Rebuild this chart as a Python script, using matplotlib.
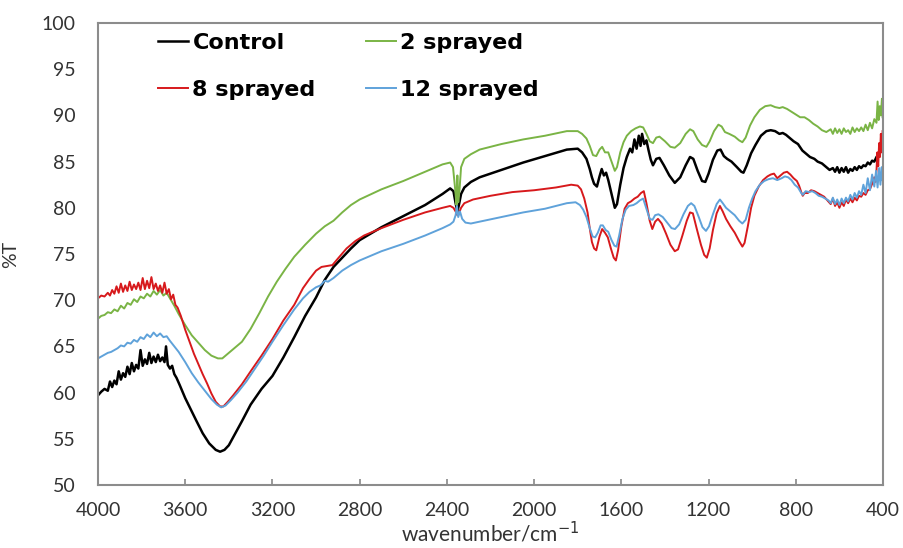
import matplotlib
matplotlib.use("Agg")
import matplotlib.pyplot as plt

# FTIR spectra: wavenumber (cm-1) and %T
CONTROL_WN = [4000, 3985, 3970, 3955, 3945, 3935, 3925, 3915, 3905, 3895, 3885, 3875, 3865, 3855, 3845, 3835,
              3825, 3815, 3805, 3795, 3785, 3775, 3765, 3755, 3745, 3735, 3725, 3715, 3705, 3695, 3688, 3680,
              3670, 3660, 3650, 3640, 3625, 3600, 3575, 3550, 3520, 3490, 3460, 3440, 3420, 3400, 3370, 3340,
              3300, 3250, 3200, 3150, 3100, 3050, 3000, 2960, 2920, 2880, 2840, 2800, 2700, 2600, 2500, 2420,
              2385, 2370, 2360, 2352, 2345, 2335, 2320, 2290, 2250, 2150, 2050, 1950, 1850, 1800, 1780, 1760,
              1745, 1735, 1725, 1712, 1700, 1690, 1680, 1670, 1660, 1645, 1630, 1620, 1605, 1590, 1575, 1560,
              1550, 1540, 1530, 1520, 1512, 1505, 1495, 1485, 1475, 1465, 1455, 1440, 1425, 1405, 1380, 1355,
              1330, 1305, 1285, 1270, 1250, 1230, 1215, 1200, 1180, 1160, 1145, 1130, 1115, 1095, 1070, 1050,
              1040, 1025, 1005, 985, 960, 935, 915, 895, 875, 860, 845, 830, 810, 790, 770, 750, 735, 715, 700,
              680, 660, 645, 630, 620, 610, 600, 590, 580, 570, 560, 550, 540, 530, 520, 510, 500, 490, 480,
              470, 460, 450, 440, 430, 420, 410, 402]
CONTROL_T = [59.7, 60.1, 60.4, 60.2, 61.2, 60.6, 61.3, 60.9, 62.3, 61.4, 62.1, 61.7, 62.8, 62.0, 63.2, 62.3,
             63.0, 62.6, 64.6, 62.9, 63.6, 63.1, 64.3, 63.2, 63.9, 63.3, 64.1, 63.4, 63.8, 63.3, 65.0, 63.0,
             62.6, 62.9, 62.0, 61.6, 60.8, 59.4, 58.2, 57.0, 55.6, 54.5, 53.8, 53.6, 53.8, 54.3, 55.6, 56.9,
             58.7, 60.4, 61.8, 63.8, 66.0, 68.3, 70.3, 72.2, 73.6, 74.6, 75.6, 76.5, 77.9, 79.1, 80.3, 81.5,
             82.1, 81.8, 80.5, 79.6, 80.3, 81.5, 82.2, 82.8, 83.3, 84.1, 84.9, 85.6, 86.3, 86.4, 86.0, 85.3,
             84.2, 83.3, 82.6, 82.3, 83.4, 84.2, 83.5, 83.8, 83.0, 81.5, 80.0, 80.4, 82.5, 84.3, 85.5, 86.4,
             86.0, 87.4, 86.4, 87.8, 86.7, 88.0, 86.9, 87.3, 86.2, 85.2, 84.6, 85.3, 85.4, 84.6, 83.5, 82.7,
             83.3, 84.6, 85.5, 85.3, 84.0, 82.9, 82.8, 83.7, 85.2, 86.2, 86.3, 85.6, 85.3, 85.0, 84.4, 83.9,
             83.8, 84.6, 85.9, 86.8, 87.8, 88.3, 88.4, 88.3, 88.0, 88.1, 87.9, 87.6, 87.2, 86.9, 86.2, 85.8,
             85.5, 85.3, 85.0, 84.8, 84.4, 84.1, 84.3, 83.9, 84.4, 83.8, 84.3, 83.9, 84.4, 83.8, 84.2, 84.0,
             84.4, 84.1, 84.5, 84.3, 84.6, 84.5, 84.9, 84.7, 85.1, 85.0, 85.5, 85.8, 86.6, 87.5]

SPRAY2_WN = [4000, 3985, 3970, 3955, 3940, 3925, 3910, 3895, 3880, 3865, 3850, 3835, 3820, 3805, 3790, 3775,
             3760, 3745, 3730, 3715, 3700, 3685, 3670, 3650, 3630, 3600, 3570, 3540, 3510, 3480, 3450, 3430,
             3410, 3380, 3340, 3300, 3260, 3220, 3180, 3140, 3100, 3050, 3000, 2960, 2940, 2920, 2880, 2840,
             2800, 2700, 2600, 2500, 2420, 2385, 2372, 2362, 2356, 2352, 2348, 2342, 2335, 2320, 2290, 2250,
             2150, 2050, 1950, 1850, 1800, 1780, 1760, 1745, 1730, 1715, 1700, 1688, 1675, 1660, 1645, 1630,
             1620, 1605, 1590, 1575, 1555, 1535, 1515, 1500, 1485, 1470, 1455, 1440, 1425, 1400, 1375, 1355,
             1330, 1305, 1285, 1270, 1250, 1230, 1210, 1195, 1175, 1155, 1140, 1125, 1105, 1080, 1060, 1045,
             1030, 1010, 990, 965, 940, 915, 895, 875, 860, 840, 820, 800, 780, 760, 740, 720, 700, 680, 660,
             640, 630, 620, 610, 600, 590, 580, 570, 560, 550, 540, 530, 520, 510, 500, 490, 480, 470, 460,
             450, 440, 430, 425, 420, 415, 410, 405, 402]
SPRAY2_T = [68.0, 68.3, 68.4, 68.7, 68.6, 69.0, 68.8, 69.4, 69.1, 69.7, 69.5, 70.1, 69.8, 70.4, 70.2, 70.7,
            70.4, 71.0, 70.6, 71.1, 70.5, 70.8, 70.2, 69.4, 68.5, 67.3, 66.2, 65.4, 64.6, 64.0, 63.7, 63.7,
            64.1, 64.7, 65.5, 66.9, 68.6, 70.4, 72.0, 73.4, 74.7, 76.0, 77.2, 78.0, 78.3, 78.6, 79.5, 80.3,
            80.9, 82.0, 82.9, 83.9, 84.7, 84.9, 84.4, 82.0, 80.3, 83.5, 80.6, 82.0, 84.4, 85.3, 85.8, 86.3,
            86.9, 87.4, 87.8, 88.3, 88.3, 88.0, 87.5, 86.7, 85.7, 85.6, 86.3, 86.6, 86.0, 86.0, 85.0, 84.0,
            84.4, 86.0, 87.1, 87.8, 88.3, 88.6, 88.8, 88.7, 88.0, 87.2, 87.0, 87.6, 87.7, 87.2, 86.6, 86.5,
            87.0, 88.0, 88.5, 88.3, 87.4, 86.8, 86.6, 87.2, 88.3, 89.0, 88.8, 88.2, 88.0, 87.7, 87.3, 87.1,
            87.6, 88.9, 89.8, 90.6, 91.0, 91.1, 90.9, 90.8, 90.9, 90.7, 90.4, 90.1, 89.8, 89.8, 89.5, 89.1,
            88.8, 88.4, 88.2, 88.5, 88.0, 88.6, 88.1, 88.5, 88.0, 88.6, 88.2, 88.4, 88.0, 88.7, 88.2, 88.6,
            88.3, 88.7, 88.3, 89.0, 88.4, 89.2, 88.6, 89.6, 89.2, 91.5, 89.5, 91.0, 90.0, 91.8, 89.8]

SPRAY8_WN = [4000, 3985, 3970, 3955, 3945, 3935, 3925, 3915, 3905, 3895, 3885, 3875, 3865, 3855, 3845, 3835,
             3825, 3815, 3805, 3795, 3785, 3775, 3765, 3755, 3745, 3735, 3725, 3715, 3705, 3695, 3685, 3675,
             3665, 3655, 3645, 3635, 3620, 3600, 3580, 3560, 3540, 3520, 3500, 3480, 3460, 3440, 3425, 3405,
             3380, 3340, 3300, 3250, 3200, 3150, 3100, 3060, 3030, 3000, 2975, 2950, 2925, 2900, 2860, 2820,
             2780, 2700, 2600, 2500, 2420, 2385, 2370, 2360, 2352, 2345, 2335, 2320, 2280, 2200, 2100, 2000,
             1900, 1830, 1800, 1785, 1770, 1755, 1745, 1735, 1725, 1715, 1700, 1688, 1675, 1662, 1648, 1635,
             1625, 1615, 1600, 1585, 1570, 1555, 1540, 1525, 1510, 1497, 1485, 1470, 1458, 1445, 1432, 1415,
             1395, 1375, 1355, 1340, 1320, 1300, 1285, 1272, 1255, 1235, 1220, 1208, 1195, 1180, 1163, 1148,
             1135, 1120, 1100, 1080, 1060, 1045, 1035, 1020, 1005, 990, 970, 950, 930, 915, 900, 885, 870,
             855, 840, 825, 810, 795, 785, 775, 768, 760, 745, 730, 715, 700, 685, 670, 655, 640, 630, 620,
             610, 600, 590, 580, 570, 560, 550, 540, 530, 520, 510, 500, 490, 480, 470, 460, 450, 440, 434,
             430, 426, 422, 418, 414, 410, 406, 402]
SPRAY8_T = [70.2, 70.5, 70.4, 70.8, 70.5, 71.1, 70.7, 71.5, 70.8, 71.8, 70.9, 71.6, 71.0, 72.0, 71.1, 71.7,
            71.2, 71.9, 71.1, 72.4, 71.2, 72.1, 71.3, 72.5, 71.2, 71.8, 71.0, 71.6, 70.8, 71.9, 70.7, 71.2,
            70.1, 70.6, 69.5, 69.2, 68.3, 66.8, 65.5, 64.2, 63.1, 62.0, 61.0, 59.9, 59.0, 58.5, 58.5, 59.0,
            59.7, 60.9, 62.3, 64.0, 65.8, 67.8, 69.5, 71.3, 72.3, 73.2, 73.6, 73.7, 73.8, 74.5, 75.6, 76.4,
            77.0, 77.8, 78.7, 79.5, 80.0, 80.2, 80.0, 79.6, 79.2, 79.4, 80.0, 80.5, 80.9, 81.3, 81.7, 81.9,
            82.2, 82.5, 82.4, 82.0, 81.0, 79.5, 77.8, 76.3, 75.6, 75.4, 76.9, 77.7, 77.3, 76.8, 75.6, 74.6,
            74.3, 75.4, 78.0, 79.9, 80.5, 80.7, 81.0, 81.2, 81.6, 81.8, 80.5, 78.6, 77.7, 78.5, 78.8, 78.3,
            77.2, 76.0, 75.3, 75.5, 77.0, 78.6, 79.5, 79.4, 77.8, 76.0, 74.9, 74.6, 75.6, 77.6, 79.4, 80.2,
            79.6, 78.8, 78.0, 77.3, 76.4, 75.8, 76.2, 78.0, 80.0, 81.3, 82.3, 83.0, 83.4, 83.6, 83.7, 83.2, 83.5,
            83.8, 83.9, 83.6, 83.2, 82.9, 82.4, 81.7, 81.3, 81.6, 81.6, 81.9, 81.8, 81.6, 81.4, 81.2, 80.8, 80.4,
            81.0, 80.2, 80.6, 80.0, 80.6, 80.2, 80.9, 80.5, 81.0, 80.6, 81.1, 80.8, 81.3, 81.2, 81.6, 81.4, 81.9,
            82.0, 82.6, 83.3, 82.8, 84.0, 86.0, 84.5, 87.0, 85.5, 88.0, 86.0, 88.3]

SPRAY12_WN = [4000, 3985, 3970, 3955, 3940, 3925, 3910, 3895, 3880, 3865, 3850, 3835, 3820, 3805, 3790, 3775,
              3760, 3745, 3730, 3715, 3700, 3685, 3670, 3650, 3630, 3600, 3570, 3540, 3510, 3480, 3455, 3435,
              3415, 3390, 3360, 3320, 3280, 3240, 3200, 3150, 3100, 3060, 3030, 3000, 2980, 2960, 2945, 2920,
              2880, 2840, 2800, 2700, 2600, 2500, 2420, 2385, 2370, 2360, 2354, 2348, 2340, 2330, 2315, 2290,
              2250, 2150, 2050, 1950, 1850, 1810, 1790, 1775, 1760, 1745, 1732, 1720, 1708, 1695, 1685, 1672,
              1660, 1645, 1632, 1622, 1610, 1595, 1580, 1565, 1545, 1530, 1515, 1500, 1485, 1470, 1457, 1445,
              1430, 1410, 1390, 1370, 1354, 1335, 1315, 1295, 1280, 1265, 1245, 1228, 1212, 1198, 1180, 1163,
              1148, 1135, 1120, 1100, 1080, 1060, 1045, 1030, 1015, 1000, 985, 965, 945, 925, 905, 885, 865,
              850, 835, 820, 805, 790, 775, 768, 755, 740, 725, 710, 695, 680, 665, 650, 640, 630, 620, 610,
              600, 590, 580, 570, 560, 550, 540, 530, 520, 510, 500, 490, 480, 470, 460, 450, 440, 432, 425,
              418, 412, 406, 402]
SPRAY12_T = [63.7, 63.9, 64.1, 64.3, 64.4, 64.6, 64.8, 65.1, 65.0, 65.4, 65.3, 65.7, 65.5, 66.0, 65.8, 66.3,
             66.0, 66.5, 66.1, 66.4, 66.0, 66.1, 65.6, 65.0, 64.4, 63.3, 62.1, 61.1, 60.2, 59.3, 58.7, 58.4,
             58.6, 59.2, 60.0, 61.2, 62.6, 64.0, 65.5, 67.3, 69.0, 70.2, 70.9, 71.4, 71.6, 72.1, 72.0, 72.4,
             73.2, 73.8, 74.3, 75.3, 76.1, 77.0, 77.8, 78.2, 78.5, 79.2, 80.2, 79.0, 79.6, 78.8, 78.4, 78.3,
             78.5, 79.0, 79.5, 79.9, 80.5, 80.6, 80.3, 79.8, 79.0, 77.8, 76.9, 76.8, 77.3, 78.1, 78.1, 77.6,
             77.4, 76.5, 75.9, 75.8, 77.0, 78.8, 79.8, 80.2, 80.3, 80.5, 80.8, 81.0, 79.9, 78.8, 78.7, 79.2,
             79.3, 79.0, 78.4, 77.8, 77.7, 78.2, 79.3, 80.2, 80.5, 80.2, 79.0, 77.9, 77.5, 78.0, 79.3, 80.4,
             80.9, 80.5, 80.0, 79.6, 79.2, 78.6, 78.3, 78.7, 80.0, 81.0, 81.8, 82.5, 82.9, 83.1, 83.2, 83.0, 83.2,
             83.4, 83.3, 83.0, 82.5, 82.2, 81.6, 81.4, 81.8, 81.7, 81.8, 81.6, 81.3, 81.2, 81.0, 80.8, 80.5, 81.1,
             80.4, 80.9, 80.3, 81.0, 80.5, 81.1, 80.7, 81.4, 80.9, 81.6, 81.1, 81.8, 81.4, 82.5, 81.6, 83.2,
             81.9, 83.6, 82.3, 84.0, 82.2, 84.3, 82.5, 84.4, 83.0]

LABELS = ["Control", "2 sprayed", "8 sprayed", "12 sprayed"]
COLORS = ["#000000", "#7ab445", "#d7191c", "#5fa2da"]
WIDTHS = [1.8, 1.4, 1.4, 1.4]

X_TICKS = [4000, 3600, 3200, 2800, 2400, 2000, 1600, 1200, 800, 400]
Y_TICKS = [50, 55, 60, 65, 70, 75, 80, 85, 90, 95, 100]


def main():
    fig = plt.figure(figsize=(9.04, 5.48), dpi=100)
    ax = fig.add_axes([0.1084, 0.115, 0.8684, 0.843])

    series = [(CONTROL_WN, CONTROL_T), (SPRAY2_WN, SPRAY2_T),
              (SPRAY8_WN, SPRAY8_T), (SPRAY12_WN, SPRAY12_T)]
    handles = []
    for (wn, t), label, color, lw in zip(series, LABELS, COLORS, WIDTHS):
        line, = ax.plot(wn, t, color=color, lw=lw, label=label)
        handles.append(line)

    ax.set_xlim(4000, 400)
    ax.set_ylim(50, 100)
    ax.set_xticks(X_TICKS)
    ax.set_yticks(Y_TICKS)

    tick_font = "Lato"
    for lab in ax.get_xticklabels() + ax.get_yticklabels():
        lab.set_fontfamily(tick_font)
        lab.set_fontsize(14)
        lab.set_color("#333333")
    ax.tick_params(axis="x", direction="in", length=4, width=1.2, color="#888888", pad=12)
    ax.tick_params(axis="y", length=0, pad=16)

    for sp in ax.spines.values():
        sp.set_color("#8c8c8c")
        sp.set_linewidth(1.5)

    ax.set_xlabel("wavenumber/cm$^{-1}$", fontfamily=tick_font, fontsize=15, color="#333333", labelpad=1)
    ax.set_ylabel("%T", fontfamily=tick_font, fontsize=14, color="#333333", labelpad=16)

    # legend order: column 1 Control / 8 sprayed, column 2 2 sprayed / 12 sprayed
    order = [0, 2, 1, 3]
    ax.legend([handles[i] for i in order], [LABELS[i] for i in order],
              ncol=2, loc="upper left", bbox_to_anchor=(0.051, 1.022), frameon=False,
              prop={"family": "DejaVu Sans", "weight": "bold", "size": 16},
              handlelength=1.35, handletextpad=0.2, labelspacing=1.2, columnspacing=2.25)

    fig.savefig("out.png", dpi=100)
    plt.close(fig)


if __name__ == "__main__":
    main()
